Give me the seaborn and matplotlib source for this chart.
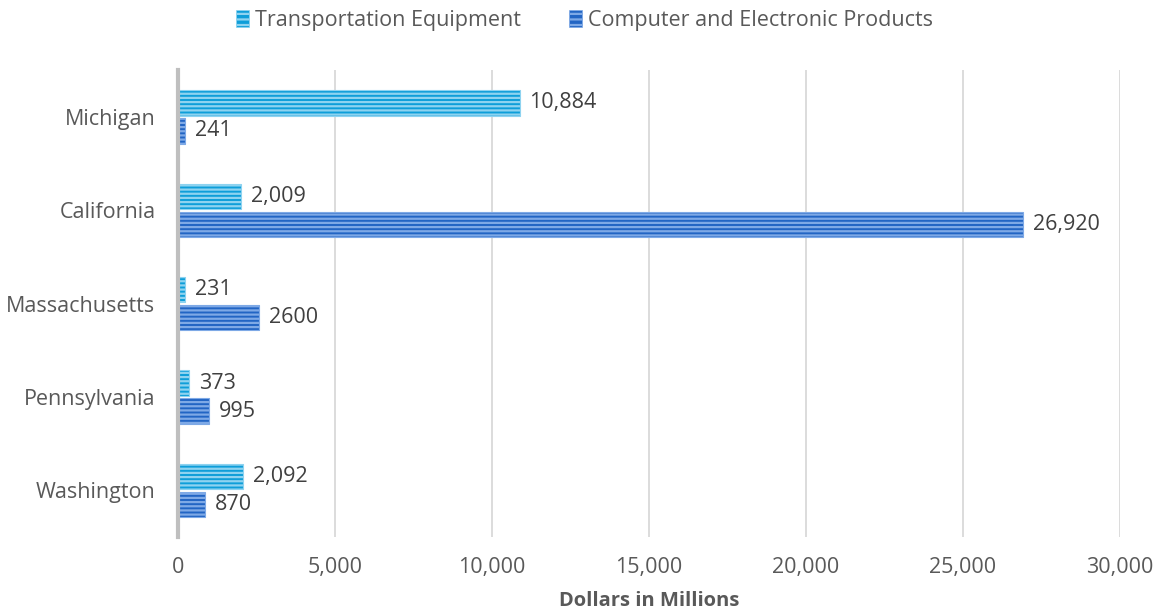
import matplotlib
matplotlib.use("Agg")
import matplotlib.pyplot as plt
import seaborn as sns
import pandas as pd

states = ["Michigan", "California", "Massachusetts", "Pennsylvania", "Washington"]
series = ["Transportation Equipment", "Computer and Electronic Products"]
transport = [10884, 2009, 231, 373, 2092]
computer = [241, 26920, 2600, 995, 870]
transport_labels = ["10,884", "2,009", "231", "373", "2,092"]
computer_labels = ["241", "26,920", "2600", "995", "870"]
x_ticks = [0, 5000, 10000, 15000, 20000, 25000, 30000]

df = pd.DataFrame({
    "State": states * 2,
    "Series": [series[0]] * len(states) + [series[1]] * len(states),
    "Value": transport + computer,
})

sns.set_theme(style="white")
plt.rcParams["font.family"] = ["Open Sans", "DejaVu Sans"]
plt.rcParams["hatch.linewidth"] = 1.6
text_color = "#595959"

base_colors = ["#0E9ED9", "#2265C4"]
stripe_colors = ["#8ED3F0", "#7EA9E6"]

fig = plt.figure(figsize=(11.69, 6.16), dpi=100)
ax = fig.add_axes([0.152, 0.128, 0.806, 0.758])

sns.barplot(data=df, y="State", x="Value", hue="Series", order=states,
            hue_order=series, palette=base_colors, orient="h",
            width=0.6, gap=0.1, ax=ax, legend=False)

for cont, base, stripe, labels in zip(ax.containers, base_colors, stripe_colors,
                                      [transport_labels, computer_labels]):
    for bar in cont:
        bar.set_facecolor(base)
        bar.set_edgecolor(stripe)
        bar.set_hatch("----")
        bar.set_linewidth(0.8)
    ax.bar_label(cont, labels=labels, padding=7, fontsize=15.5, color="#404040")

ax.set_xlim(0, 30000)
ax.set_xticks(x_ticks)
ax.set_xticklabels([f"{v:,}" for v in x_ticks])
ax.tick_params(axis="both", labelsize=15.5, colors=text_color, length=0)
ax.tick_params(axis="x", pad=14)
ax.tick_params(axis="y", pad=16)
ax.xaxis.grid(True, color="#d9d9d9", linewidth=1.3)
ax.set_axisbelow(True)
for side in ["top", "right", "bottom"]:
    ax.spines[side].set_visible(False)
ax.spines["left"].set_color("#bfbfbf")
ax.spines["left"].set_linewidth(3)
ax.set_ylabel("")
ax.set_xlabel("Dollars in Millions", fontsize=14.5, fontweight="bold",
              color=text_color, labelpad=10)

handles = []
for base, stripe, name in zip(base_colors, stripe_colors, series):
    h = matplotlib.patches.Patch(facecolor=base, edgecolor=stripe, hatch="---",
                                 linewidth=0.5, label=name)
    handles.append(h)
leg = fig.legend(handles=handles, loc="upper center", bbox_to_anchor=(0.5, 1.015),
                 ncol=2, frameon=False, fontsize=15.5, handlelength=0.6,
                 handleheight=0.8, handletextpad=0.3, columnspacing=2.2)
for t in leg.get_texts():
    t.set_color(text_color)

fig.savefig("out.png", dpi=100)
